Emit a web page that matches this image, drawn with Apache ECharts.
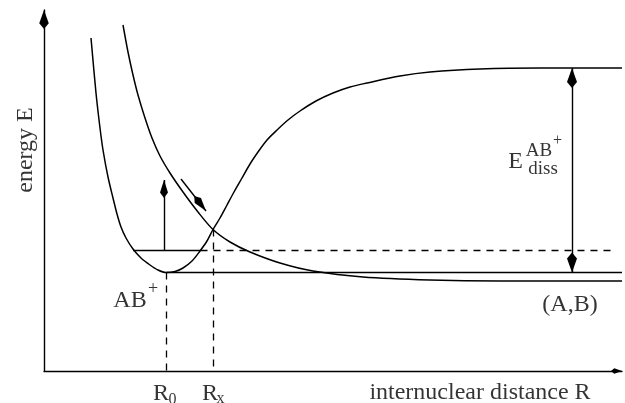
<!DOCTYPE html>
<html lang="en">
<head>
    <meta charset="UTF-8">
    <title>Potential curves</title>
    <script src="https://cdn.jsdelivr.net/npm/echarts@6.0.0/dist/echarts.min.js"></script>
    <style>
        html, body { margin: 0; padding: 0; background: #fff; }
        #chart { width: 625px; height: 403px; }
    </style>
</head>
<body>
    <div id="chart"></div>
    <script>
        // bound ion AB+ (well) and the repulsive (A,B) curve
        const wellCurve = [
            [0.94, 6.66], [1.04, 5.56], [1.12, 4.86], [1.18, 4.42], [1.28, 3.88],
            [1.38, 3.46], [1.46, 3.14], [1.54, 2.88], [1.64, 2.66], [1.78, 2.44],
            [1.94, 2.26], [2.12, 2.12], [2.28, 2.02], [2.44, 1.97], [2.62, 1.99],
            [2.78, 2.06], [2.96, 2.20], [3.12, 2.40], [3.26, 2.60], [3.38, 2.83],
            [3.52, 3.06], [3.66, 3.32], [3.80, 3.58], [3.96, 3.86], [4.12, 4.14],
            [4.28, 4.38], [4.46, 4.62], [4.66, 4.82], [4.88, 5.02], [5.12, 5.20],
            [5.44, 5.40], [5.78, 5.56], [6.12, 5.68], [6.46, 5.76], [7.12, 5.90],
            [7.72, 5.98], [8.72, 6.04], [9.92, 6.06], [11.56, 6.06]
        ];
        const repulsiveCurve = [
            [1.58, 6.92], [1.68, 6.38], [1.78, 5.92], [1.88, 5.52], [2.02, 5.06],
            [2.16, 4.66], [2.32, 4.30], [2.52, 3.96], [2.78, 3.58], [3.08, 3.18],
            [3.38, 2.83], [3.72, 2.58], [4.12, 2.38], [4.72, 2.16], [5.38, 2.00],
            [6.38, 1.88], [7.72, 1.82], [9.12, 1.80], [11.56, 1.80]
        ];
        const vibLevel = [[1.78, 2.42], [3.13, 2.42]];
        const vibLevelDashed = [[3.13, 2.42], [11.42, 2.42]];
        const minLevel = [[2.44, 1.97], [11.56, 1.97]];
        const r0Drop = [[2.44, 1.97], [2.44, 0]];
        const rxDrop = [[3.38, 2.83], [3.38, 0]];
        const excitation = [[2.40, 2.42], [2.40, 3.82]];
        const transfer = [[2.74, 3.84], [3.24, 3.20]];
        const dissArrow = [[10.56, 1.97], [10.56, 6.06]];

        const xMax = 11.56;
        const yMax = 7.22;

        const KITE = 'path://M0,0 L5,14 L0,20 L-5,14 Z';
        const FONT = '"Liberation Serif", "Times New Roman", serif';
        const dash = [7, 6];

        function seg(pts, style, startHead, endHead) {
            const a = { coord: pts[0], symbol: 'none', lineStyle: style };
            const b = { coord: pts[1], symbol: 'none' };
            if (startHead) {
                a.symbol = KITE; a.symbolSize = startHead; a.symbolOffset = [0, startHead[1] / 2];
            }
            if (endHead) {
                b.symbol = KITE; b.symbolSize = endHead; b.symbolOffset = [0, endHead[1] / 2];
            }
            return [a, b];
        }

        function txt(x, y, text, size, extra) {
            return {
                value: [x, y],
                label: Object.assign({ formatter: text, fontSize: size }, extra || {})
            };
        }

        const solid = { type: 'solid', width: 1.4, color: '#000' };
        const dashed = { type: dash, width: 1.3, color: '#000' };

        const chart = echarts.init(document.getElementById('chart'));
        chart.setOption({
            animation: false,
            backgroundColor: '#fff',
            grid: { left: 44, right: 3, top: 10, bottom: 32 },
            xAxis: {
                type: 'value', min: 0, max: xMax,
                splitLine: { show: false }, axisTick: { show: false }, axisLabel: { show: false },
                axisLine: {
                    show: true, onZero: false,
                    symbol: ['none', KITE], symbolSize: [8, 11], symbolOffset: [0, -5.5],
                    lineStyle: { color: '#000', width: 1.4 }
                }
            },
            yAxis: {
                type: 'value', min: 0, max: yMax,
                splitLine: { show: false }, axisTick: { show: false }, axisLabel: { show: false },
                axisLine: {
                    show: true, onZero: false,
                    symbol: ['none', KITE], symbolSize: [10, 19], symbolOffset: [0, -9.5],
                    lineStyle: { color: '#000', width: 1.4 }
                }
            },
            series: [
                {
                    name: 'AB+',
                    type: 'line',
                    data: wellCurve,
                    smooth: 0.3,
                    showSymbol: false,
                    silent: true,
                    lineStyle: { color: '#000', width: 1.5 },
                    markLine: {
                        silent: true,
                        animation: false,
                        label: { show: false },
                        emphasis: { disabled: true },
                        data: [
                            seg(vibLevel, solid),
                            seg(vibLevelDashed, dashed),
                            seg(minLevel, solid),
                            seg(r0Drop, dashed),
                            seg(rxDrop, dashed),
                            seg(excitation, solid, null, [8, 18]),
                            seg(transfer, solid, null, [8, 19]),
                            seg(dissArrow, solid, [10, 20], [10, 20])
                        ]
                    }
                },
                {
                    name: '(A,B)',
                    type: 'line',
                    data: repulsiveCurve,
                    smooth: 0.3,
                    showSymbol: false,
                    silent: true,
                    lineStyle: { color: '#000', width: 1.5 }
                },
                {
                    name: 'labels',
                    type: 'scatter',
                    symbolSize: 0,
                    clip: false,
                    silent: true,
                    label: {
                        show: true, position: 'inside', color: '#000',
                        fontFamily: FONT, align: 'center', verticalAlign: 'middle'
                    },
                    data: [
                        txt(1.72, 1.40, 'AB', 24),
                        txt(2.18, 1.64, '+', 18),
                        txt(10.52, 1.32, '(A,B)', 24),
                        txt(9.43, 4.18, 'E', 24),
                        txt(9.90, 4.39, 'AB', 19),
                        txt(10.27, 4.60, '+', 16),
                        txt(9.98, 4.03, 'diss', 19),
                        txt(2.34, -0.46, 'R', 24),
                        txt(2.57, -0.58, '0', 16),
                        txt(3.32, -0.46, 'R', 24),
                        txt(3.53, -0.56, 'x', 16),
                        txt(8.72, -0.44, 'internuclear distance R', 24),
                        txt(-0.364, 4.42, 'energy E', 24, { rotate: 90 })
                    ]
                }
            ]
        });
    </script>
</body>
</html>
